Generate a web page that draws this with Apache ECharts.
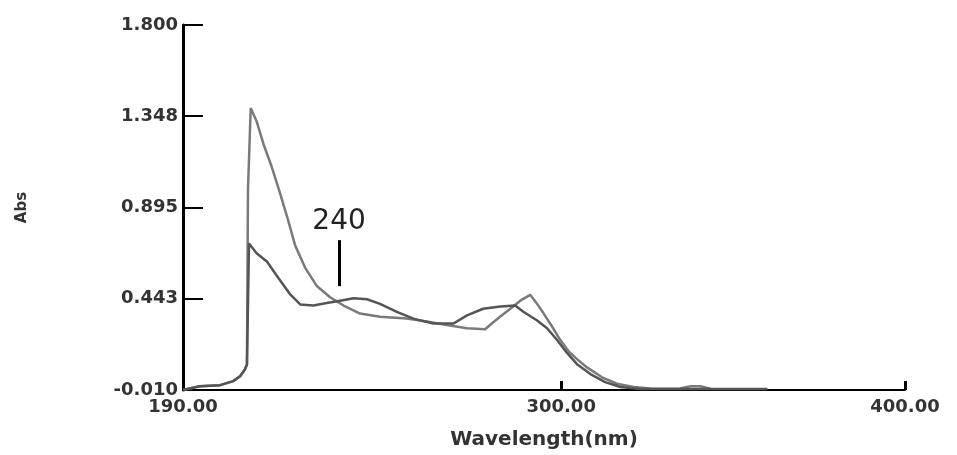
<!DOCTYPE html>
<html>
<head>
<meta charset="utf-8">
<script src="https://cdn.jsdelivr.net/npm/echarts@6/dist/echarts.min.js"></script>
<style>
  html, body { margin: 0; padding: 0; background: #fff; }
  #chart { width: 957px; height: 455px; }
</style>
</head>
<body>
<div id="chart"></div>
<script>
// spectrum 1 (lighter trace, tall peak)
var wavelengthA = [190.0, 194.9, 200.8, 204.6, 206.6, 208.0, 208.6, 208.9, 209.7, 211.4, 213.4, 215.8, 218.2, 220.2,
  222.6, 225.5, 228.9, 232.8, 236.7, 241.5, 247.3, 255.1, 260.9, 266.7, 272.6, 277.9, 279.8, 282.3, 285.2,
  288.1, 291.0, 293.0, 294.9, 297.3, 299.7, 302.1, 304.6, 307.5, 311.9, 316.2, 321.1, 326.8, 334.6, 337.6,
  340.5, 343.4];
var absA = [-0.010, 0.009, 0.014, 0.034, 0.058, 0.092, 0.116, 0.985, 1.388, 1.323, 1.210, 1.097, 0.967, 0.854,
  0.708, 0.597, 0.506, 0.450, 0.409, 0.369, 0.353, 0.344, 0.330, 0.312, 0.296, 0.291, 0.320, 0.354, 0.393,
  0.433, 0.462, 0.417, 0.369, 0.306, 0.239, 0.183, 0.143, 0.102, 0.053, 0.021, 0.005, -0.004, -0.003, 0.009,
  0.009, -0.004];

// spectrum 2 (darker trace)
var wavelengthB = [190.0, 194.9, 200.8, 204.6, 206.6, 208.0, 208.6, 208.9, 209.2, 209.5, 211.4, 214.4, 217.7,
  221.1, 224.1, 227.9, 231.8, 235.7, 239.6, 243.5, 247.3, 252.2, 257.0, 262.8, 268.7, 272.6, 277.3, 282.3,
  286.6, 289.0, 292.9, 295.9, 298.8, 301.7, 304.6, 308.5, 312.8, 317.2, 323.0, 340.5, 360.0];
var absB = [-0.010, 0.009, 0.014, 0.034, 0.058, 0.092, 0.116, 0.116, 0.717, 0.718, 0.668, 0.627, 0.547,
  0.466, 0.414, 0.409, 0.421, 0.433, 0.445, 0.440, 0.417, 0.377, 0.344, 0.320, 0.320, 0.360, 0.393, 0.404,
  0.409, 0.378, 0.336, 0.296, 0.238, 0.174, 0.118, 0.069, 0.029, 0.005, -0.005, -0.005, -0.005];

var xTickValues = [190, 300, 400];
var yTickValues = [-0.010, 0.443, 0.895, 1.348, 1.800];

// "240" marker
var markWavelength = 235.4;
var markFrom = 0.505;
var markTo = 0.733;
var markText = "240";

function zip(xs, ys) {
  var out = [];
  for (var i = 0; i < xs.length; i++) out.push([xs[i], ys[i]]);
  return out;
}

var chart = echarts.init(document.getElementById("chart"));
chart.setOption({
  animation: false,
  backgroundColor: "#fff",
  grid: { left: 183, right: 52, top: 25, bottom: 57, containLabel: false },
  xAxis: {
    type: "value",
    min: 190,
    max: 400,
    name: "Wavelength(nm)",
    nameLocation: "middle",
    nameGap: 40,
    nameTextStyle: { fontFamily: "DejaVu Sans", fontSize: 20, fontWeight: "bold", color: "#333" },
    axisLine: { show: true, onZero: false, lineStyle: { color: "#000", width: 2 } },
    axisTick: { show: true, inside: true, length: 9, customValues: xTickValues, lineStyle: { color: "#000", width: 3 } },
    axisLabel: {
      customValues: xTickValues,
      margin: 8,
      fontFamily: "DejaVu Sans",
      fontSize: 18,
      fontWeight: "bold",
      color: "#333",
      formatter: function (v) { return v.toFixed(2); }
    },
    splitLine: { show: false }
  },
  yAxis: {
    type: "value",
    min: -0.01,
    max: 1.8,
    name: "Abs",
    nameLocation: "middle",
    nameRotate: 90,
    nameGap: 153,
    nameTextStyle: { fontFamily: "DejaVu Sans", fontSize: 15, fontWeight: "bold", color: "#333" },
    axisLine: { show: true, onZero: false, lineStyle: { color: "#000", width: 3 } },
    axisTick: { show: true, inside: true, length: 20, customValues: yTickValues, lineStyle: { color: "#000", width: 2 } },
    axisLabel: {
      customValues: yTickValues,
      margin: 5,
      fontFamily: "DejaVu Sans",
      fontSize: 18,
      fontWeight: "bold",
      color: "#333",
      formatter: function (v) { return v.toFixed(3); }
    },
    splitLine: { show: false }
  },
  series: [
    {
      type: "line",
      data: zip(wavelengthA, absA),
      showSymbol: false,
      lineStyle: { color: "#7a7a7a", width: 2.5 },
      z: 2
    },
    {
      type: "line",
      data: zip(wavelengthB, absB),
      showSymbol: false,
      lineStyle: { color: "#555", width: 2.5 },
      z: 3,
      markLine: {
        silent: true,
        symbol: "none",
        lineStyle: { color: "#000", width: 3, type: "solid" },
        label: {
          show: true,
          position: "end",
          distance: 4,
          formatter: markText,
          fontFamily: "DejaVu Sans",
          fontSize: 28,
          color: "#222"
        },
        data: [[{ coord: [markWavelength, markFrom] }, { coord: [markWavelength, markTo] }]]
      }
    }
  ]
});
</script>
</body>
</html>
